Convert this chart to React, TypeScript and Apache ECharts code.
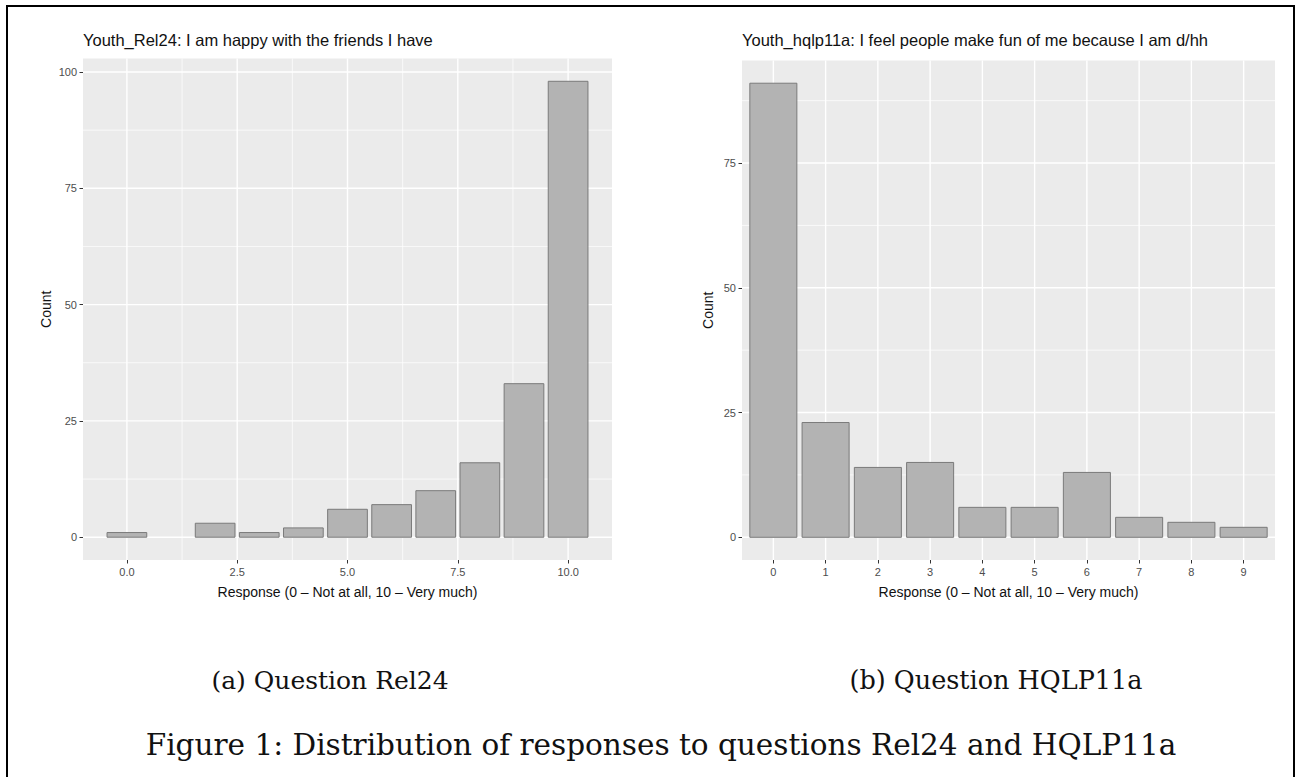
import { useEffect, useRef } from "react";
import * as echarts from "echarts";

// ---------- data ----------
const rel24Title = "Youth_Rel24: I am happy with the friends I have";
const hqlpTitle = "Youth_hqlp11a: I feel people make fun of me because I am d/hh";
const xAxisTitle = "Response (0 – Not at all, 10 – Very much)";
const yAxisTitle = "Count";
const captionA = "(a) Question Rel24";
const captionB = "(b) Question HQLP11a";
const figureCaption = "Figure 1: Distribution of responses to questions Rel24 and HQLP11a";

const rel24Responses = [0, 2, 3, 4, 5, 6, 7, 8, 9, 10];
const rel24Counts = [1, 3, 1, 2, 6, 7, 10, 16, 33, 98];

const hqlpResponses = [0, 1, 2, 3, 4, 5, 6, 7, 8, 9];
const hqlpCounts = [91, 23, 14, 15, 6, 6, 13, 4, 3, 2];

const rel24XTicks = [0, 2.5, 5, 7.5, 10];
const rel24XMinor = [1.25, 3.75, 6.25, 8.75];
const rel24YTicks = [0, 25, 50, 75, 100];
const rel24YMinor = [12.5, 37.5, 62.5, 87.5];

const hqlpXTicks = [0, 1, 2, 3, 4, 5, 6, 7, 8, 9];
const hqlpYTicks = [0, 25, 50, 75];
const hqlpYMinor = [12.5, 37.5, 62.5, 87.5];

const BAR_HALF = 0.45;

function gridData(xMajor: number[], xMinor: number[], yMajor: number[], yMinor: number[]) {
  const d: number[][] = [];
  xMinor.forEach((v) => d.push([v, 0, 0]));
  yMinor.forEach((v) => d.push([v, 1, 0]));
  xMajor.forEach((v) => d.push([v, 0, 1]));
  yMajor.forEach((v) => d.push([v, 1, 1]));
  return d;
}

const gridRender = (params: any, api: any) => {
  const pos = api.value(0);
  const orient = api.value(1);
  const major = api.value(2);
  const cs = params.coordSys;
  const lw = major ? 1.4 : 0.7;
  if (orient === 0) {
    const p = api.coord([pos, 0]);
    return {
      type: "line",
      shape: { x1: p[0], y1: cs.y, x2: p[0], y2: cs.y + cs.height },
      style: { stroke: "#ffffff", lineWidth: lw },
    };
  }
  const p = api.coord([0, pos]);
  return {
    type: "line",
    shape: { x1: cs.x, y1: p[1], x2: cs.x + cs.width, y2: p[1] },
    style: { stroke: "#ffffff", lineWidth: lw },
  };
};

const barRender = (params: any, api: any) => {
  const x = api.value(0);
  const y = api.value(1);
  const tl = api.coord([x - BAR_HALF, y]);
  const br = api.coord([x + BAR_HALF, 0]);
  return {
    type: "rect",
    shape: { x: tl[0], y: tl[1], width: br[0] - tl[0], height: br[1] - tl[1] },
    style: { fill: "#B3B3B3", stroke: "#7A7A7A", lineWidth: 1 },
  };
};

const SANS = "Liberation Sans, Arial, Helvetica, sans-serif";
const SERIF = "DejaVu Serif, serif";

function axisCommon(custom: number[], fmt?: (v: number) => string) {
  return {
    axisLine: { show: false, onZero: false },
    axisTick: {
      show: true,
      customValues: custom,
      length: 3.5,
      lineStyle: { color: "#333333", width: 1 },
    },
    axisLabel: {
      customValues: custom,
      color: "#4D4D4D",
      fontSize: 11,
      fontFamily: SANS,
      margin: 6,
      formatter: fmt ? (v: number) => fmt(v) : undefined,
    },
    splitLine: { show: false },
    minorSplitLine: { show: false },
  };
}

const nameStyle = { fontSize: 14, color: "#111", fontFamily: SANS };
const titleStyle = { fontSize: 16.5, fontWeight: "normal", color: "#111", fontFamily: SANS };

export default function App() {
  const ref = useRef<HTMLDivElement>(null);

  useEffect(() => {
    if (!ref.current) return;
    const chart = echarts.init(ref.current, undefined, { renderer: "svg" });

    const option: any = {
      animation: false,
      backgroundColor: "#ffffff",
      textStyle: { fontFamily: SANS },
      title: [
        { text: rel24Title, left: 83, top: 31, padding: 0, textStyle: titleStyle },
        { text: hqlpTitle, left: 742, top: 31, padding: 0, textStyle: titleStyle },
      ],
      grid: [
        { left: 83, top: 58.5, width: 529, height: 501.5, show: true, backgroundColor: "#EBEBEB", borderWidth: 0 },
        { left: 742, top: 60.5, width: 533, height: 499.5, show: true, backgroundColor: "#EBEBEB", borderWidth: 0 },
      ],
      xAxis: [
        {
          type: "value",
          gridIndex: 0,
          min: -0.995,
          max: 10.995,
          name: xAxisTitle,
          nameLocation: "middle",
          nameGap: 25,
          nameTextStyle: nameStyle,
          ...axisCommon(rel24XTicks, (v) => v.toFixed(1)),
        },
        {
          type: "value",
          gridIndex: 1,
          min: -0.6,
          max: 9.6,
          name: xAxisTitle,
          nameLocation: "middle",
          nameGap: 25,
          nameTextStyle: nameStyle,
          ...axisCommon(hqlpXTicks, (v) => String(v)),
        },
      ],
      yAxis: [
        {
          type: "value",
          gridIndex: 0,
          min: -4.9,
          max: 102.9,
          name: yAxisTitle,
          nameLocation: "middle",
          nameRotate: 90,
          nameGap: 30,
          nameTextStyle: nameStyle,
          ...axisCommon(rel24YTicks, (v) => String(v)),
        },
        {
          type: "value",
          gridIndex: 1,
          min: -4.55,
          max: 95.55,
          name: yAxisTitle,
          nameLocation: "middle",
          nameRotate: 90,
          nameGap: 27,
          nameTextStyle: nameStyle,
          ...axisCommon(hqlpYTicks, (v) => String(v)),
        },
      ],
      series: [
        {
          type: "custom",
          name: "grid-rel24",
          xAxisIndex: 0,
          yAxisIndex: 0,
          z: 1,
          silent: true,
          renderItem: gridRender,
          data: gridData(rel24XTicks, rel24XMinor, rel24YTicks, rel24YMinor),
        },
        {
          type: "custom",
          name: "grid-hqlp",
          xAxisIndex: 1,
          yAxisIndex: 1,
          z: 1,
          silent: true,
          renderItem: gridRender,
          data: gridData(hqlpXTicks, [], hqlpYTicks, hqlpYMinor),
        },
        {
          type: "custom",
          name: "Rel24",
          xAxisIndex: 0,
          yAxisIndex: 0,
          z: 2,
          renderItem: barRender,
          data: rel24Responses.map((r, i) => [r, rel24Counts[i]]),
        },
        {
          type: "custom",
          name: "HQLP11a",
          xAxisIndex: 1,
          yAxisIndex: 1,
          z: 2,
          renderItem: barRender,
          data: hqlpResponses.map((r, i) => [r, hqlpCounts[i]]),
        },
      ],
      graphic: [
        {
          type: "rect",
          shape: { x: 7, y: 6, width: 1287, height: 800 },
          style: { fill: "transparent", stroke: "#000000", lineWidth: 2 },
          silent: true,
        },
        {
          type: "text",
          x: 330,
          y: 680,
          style: {
            text: captionA,
            fontSize: 25,
            fontFamily: SERIF,
            fill: "#111",
            textAlign: "center",
            textVerticalAlign: "middle",
          },
        },
        {
          type: "text",
          x: 996,
          y: 680,
          style: {
            text: captionB,
            fontSize: 25.5,
            fontFamily: SERIF,
            fill: "#111",
            textAlign: "center",
            textVerticalAlign: "middle",
          },
        },
        {
          type: "text",
          x: 661,
          y: 745,
          style: {
            text: figureCaption,
            fontSize: 29.5,
            fontFamily: SERIF,
            fill: "#111",
            textAlign: "center",
            textVerticalAlign: "middle",
          },
        },
      ],
    };

    chart.setOption(option);
    return () => chart.dispose();
  }, []);

  return (
    <div
      ref={ref}
      style={{ position: "absolute", left: 0, top: 0, width: 1299, height: 777, background: "#fff" }}
    />
  );
}
